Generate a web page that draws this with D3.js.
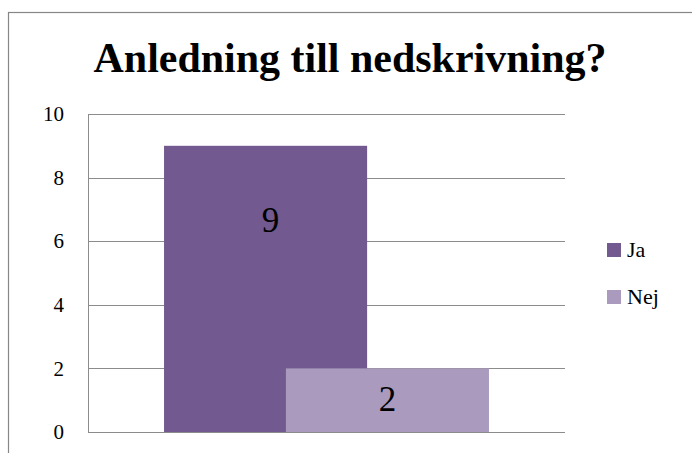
<!DOCTYPE html>
<html>
<head>
<meta charset="utf-8">
<script src="https://cdn.jsdelivr.net/npm/d3@7"></script>
<style>
  html, body { margin: 0; padding: 0; background: #fff; }
  svg { display: block; }
</style>
</head>
<body>
<svg id="chart" width="692" height="453"></svg>
<script>
// Chart data
const title = "Anledning till nedskrivning?";
const categories = ["Anledning"];
const seriesNames = ["Ja", "Nej"];
const seriesValues = [9, 2];
const seriesColors = ["#72598f", "#a99abe"];
const yTicks = [0, 2, 4, 6, 8, 10];

const FONT = "Liberation Serif";
const svg = d3.select("#chart");

function serif(sel) {
  return sel.attr("font-family", FONT).style("font-family", "'" + FONT + "'");
}

// Outer frame (only top and left edges fall inside the view)
svg.append("rect")
  .attr("x", 8.5).attr("y", 12.5)
  .attr("width", 800).attr("height", 600)
  .attr("fill", "#fff")
  .attr("stroke", "#868686").attr("stroke-width", 1.2);

// Title, sized to span its fixed width
const titleText = svg.append("text")
  .attr("x", 350).attr("y", 72)
  .attr("text-anchor", "middle")
  .style("font-weight", "bold")
  .style("font-size", "40px")
  .style("fill", "#000")
  .text(title);
serif(titleText);
const tw = titleText.node().getComputedTextLength();
titleText.style("font-size", (40 * 513 / tw).toFixed(2) + "px");

// Plot area
const plot = { left: 88, right: 565, top: 114, bottom: 432 };

const y = d3.scaleLinear().domain([0, 10]).range([plot.bottom, plot.top]);
const x = d3.scaleBand().domain(categories).range([plot.left, plot.right])
  .paddingInner(0).paddingOuter(0.234);

// Gridlines
svg.append("g")
  .selectAll("line")
  .data(yTicks)
  .join("line")
  .attr("x1", plot.left).attr("x2", plot.right)
  .attr("y1", d => Math.round(y(d)) + 0.5).attr("y2", d => Math.round(y(d)) + 0.5)
  .attr("stroke", "#8c8c8c").attr("stroke-width", 1);

// Vertical axis line
svg.append("line")
  .attr("x1", plot.left + 0.5).attr("x2", plot.left + 0.5)
  .attr("y1", Math.round(y(10)) + 0.5).attr("y2", Math.round(y(0)) + 0.5)
  .attr("stroke", "#8c8c8c").attr("stroke-width", 1);

// Y axis tick labels
const yAxis = d3.axisLeft(y).tickValues(yTicks).tickSize(0).tickPadding(24);
const gy = svg.append("g").attr("transform", `translate(${plot.left},0)`).call(yAxis);
serif(gy);
gy.select(".domain").remove();
serif(gy.selectAll("text"))
  .style("font-size", "21px")
  .style("fill", "#000");

// Overlapping bars (overlap 40%)
const overlap = 0.4;
const groupW = x.bandwidth();
const barW = groupW / (2 - overlap);
const barStep = barW * (1 - overlap);

const bars = seriesNames.map((name, i) => ({
  name, value: seriesValues[i], color: seriesColors[i],
  x0: x(categories[0]) + i * barStep
}));

svg.append("g")
  .selectAll("rect")
  .data(bars)
  .join("rect")
  .attr("x", d => d.x0)
  .attr("y", d => y(d.value))
  .attr("width", barW)
  .attr("height", d => y(0) - y(d.value))
  .attr("fill", d => d.color);

// Value labels
const labelOffset = [86, 43];
serif(svg.append("g")
  .selectAll("text")
  .data(bars)
  .join("text"))
  .attr("x", (d, i) => d.x0 + barW / 2 + (i === 0 ? 5 : 0))
  .attr("y", (d, i) => y(d.value) + labelOffset[i])
  .attr("text-anchor", "middle")
  .style("font-size", "35px")
  .style("fill", "#000")
  .text(d => d.value);

// Legend
const legend = svg.append("g").attr("transform", "translate(607,243)");
const li = legend.selectAll("g")
  .data(bars)
  .join("g")
  .attr("transform", (d, i) => `translate(0,${i * 47})`);
li.append("rect")
  .attr("width", 14).attr("height", 14)
  .attr("fill", d => d.color);
serif(li.append("text"))
  .attr("x", 20).attr("y", 14)
  .style("font-size", "22px")
  .style("fill", "#000")
  .text(d => d.name);
</script>
</body>
</html>
